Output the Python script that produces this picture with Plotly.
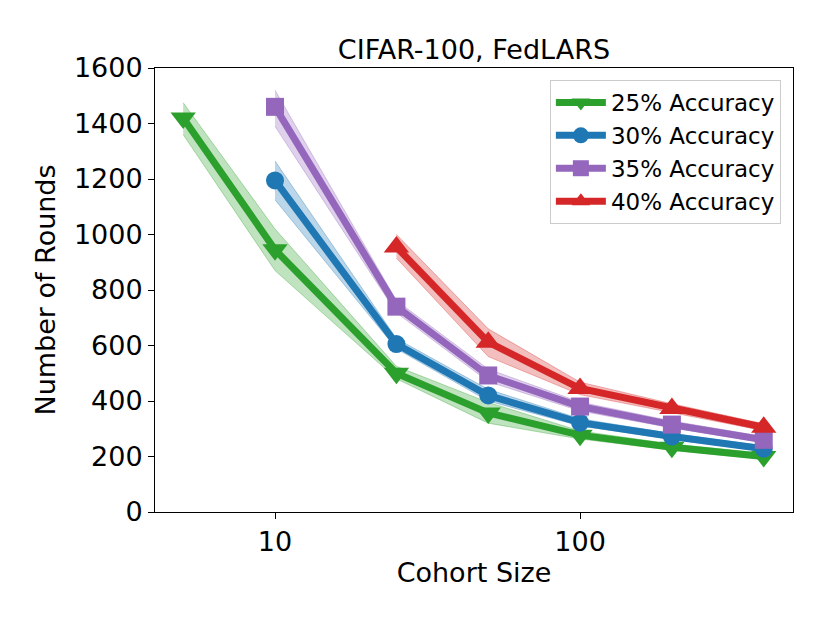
import plotly.graph_objects as go

# cohort sizes (log x axis)
cohort = [5, 10, 25, 50, 100, 200, 400]

acc25 = [1420, 945, 500, 357, 277, 233, 200]
acc25_lo = [1360, 870, 480, 320, 263, 223, 190]
acc25_hi = [1475, 1020, 525, 395, 292, 245, 212]

acc30 = [1195, 605, 420, 322, 272, 228]
acc30_lo = [1125, 588, 400, 310, 262, 219]
acc30_hi = [1265, 625, 442, 336, 283, 238]

acc35 = [1460, 740, 492, 380, 315, 260]
acc35_lo = [1390, 718, 470, 364, 303, 250]
acc35_hi = [1520, 762, 515, 396, 328, 272]

acc40 = [955, 612, 445, 373, 305]
acc40_lo = [915, 560, 423, 358, 293]
acc40_hi = [1000, 660, 468, 390, 318]

series = [
    ("25% Accuracy", cohort, acc25, acc25_lo, acc25_hi, "#2ca02c", "44,160,44", "triangle-down", 22),
    ("30% Accuracy", cohort[1:], acc30, acc30_lo, acc30_hi, "#1f77b4", "31,119,180", "circle", 18),
    ("35% Accuracy", cohort[1:], acc35, acc35_lo, acc35_hi, "#9467bd", "148,103,189", "square", 18),
    ("40% Accuracy", cohort[2:], acc40, acc40_lo, acc40_hi, "#d62728", "214,39,40", "triangle-up", 22),
]

FONT = "DejaVu Sans"

fig = go.Figure()

for nombre, xs, ys, lo, hi, color, rgb, simbolo, tam in series:
    fig.add_trace(go.Scatter(
        x=xs, y=lo, mode="lines",
        line=dict(color=f"rgba({rgb},0.35)", width=1),
        showlegend=False, hoverinfo="skip",
    ))
    fig.add_trace(go.Scatter(
        x=xs, y=hi, mode="lines", fill="tonexty",
        fillcolor=f"rgba({rgb},0.3)",
        line=dict(color=f"rgba({rgb},0.35)", width=1),
        showlegend=False, hoverinfo="skip",
    ))
    fig.add_trace(go.Scatter(
        x=xs, y=ys, mode="lines+markers", name=nombre,
        line=dict(color=color, width=7),
        marker=dict(symbol=simbolo, size=tam, color=color),
    ))

# the page body adds an 8px offset, so margins are shifted to compensate
fig.update_layout(
    width=830,
    height=623,
    margin=dict(l=147, r=45, t=60, b=119),
    paper_bgcolor="white",
    plot_bgcolor="white",
    font=dict(family=FONT, size=27, color="black"),
    title=dict(
        text="CIFAR-100, FedLARS",
        x=0.5614, xref="container", xanchor="center",
        y=0.9326, yref="container", yanchor="middle",
        font=dict(size=27),
    ),
    legend=dict(
        x=0.981, y=0.973, xanchor="right", yanchor="top",
        bgcolor="white", bordercolor="#cccccc", borderwidth=1,
        font=dict(size=23), itemwidth=50, traceorder="normal",
    ),
)

fig.update_xaxes(
    type="log",
    range=[0.6066, 2.698],
    tickvals=[10, 100],
    ticktext=["10", "100"],
    ticks="outside", ticklen=6, tickcolor="black",
    showline=True, linecolor="black", linewidth=1, mirror=True,
    showgrid=False, zeroline=False,
    title=dict(text="Cohort Size", font=dict(size=27), standoff=6),
)
fig.update_yaxes(
    range=[0, 1600],
    tickvals=[0, 200, 400, 600, 800, 1000, 1200, 1400, 1600],
    ticks="outside", ticklen=6, tickcolor="black",
    showline=True, linecolor="black", linewidth=1, mirror=True,
    showgrid=False, zeroline=False,
    title=dict(text="Number of Rounds", font=dict(size=27), standoff=10),
)

fig.write_html("out.html")
